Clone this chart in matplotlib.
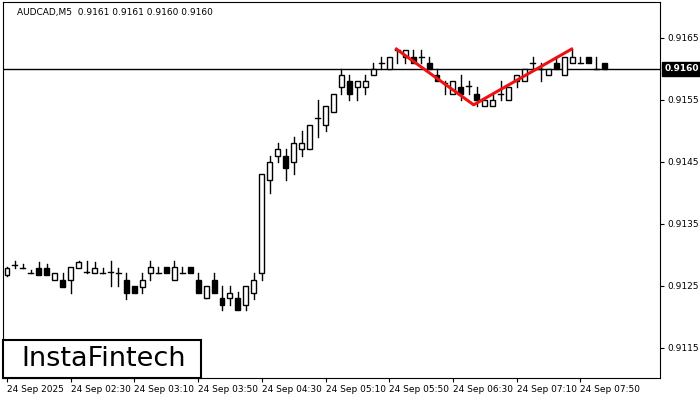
import matplotlib
matplotlib.use("Agg")
import matplotlib.pyplot as plt
from matplotlib.patches import Rectangle

opens = [.91268,.91284,.91279,.91270,.91278,.91278,.91260,.91259,.91259,.91278,.91272,.91270,.91270,.91272,.91270,.91259,.91250,.91248,.91270,.91270,.91280,.91259,.91270,.91280,.91259,.91230,.91259,.91230,.91230,.91230,.91219,.91238,.9127,
         .9142,.9146,.9146,.9145,.9147,.9147,.91520,.9151,.9153,.9157,.9158,.9157,.9157,.9159,.9161,.9160,.91630,.9162,.9162,.91619,.9161,.9159,.91578,
         .9156,.9157,.91572,.9156,.9154,.9154,.9156,.9155,.9158,.9158,.9161,.9160,.9159,.9161,.9159,.9161,.9161,.9162,.9160,.9161]
closes = [.91279,.91284,.91279,.91270,.91268,.91268,.91270,.91248,.91280,.91289,.91272,.91278,.91270,.91272,.91270,.91238,.91238,.91259,.91280,.91270,.91270,.91280,.91270,.91270,.91238,.91250,.91238,.91219,.91238,.91210,.91250,.91259,.9143,
          .9145,.9147,.9144,.9148,.9148,.9151,.91520,.9154,.9156,.9159,.9156,.9158,.9158,.9160,.9161,.9162,.91630,.9163,.9161,.91619,.9160,.9158,.91578,
          .9158,.9156,.91572,.9155,.9155,.9155,.9156,.9157,.9159,.9160,.9161,.9160,.9160,.9160,.9162,.9162,.9161,.9161,.9160,.9160]
highs = [.9128,.91290,.91285,.91276,.91288,.91285,.91270,.91270,.91280,.91290,.91290,.91288,.91279,.91290,.91279,.91270,.91250,.91270,.91290,.91281,.91280,.91290,.91281,.91280,.91270,.91250,.91270,.91250,.91250,.91240,.91250,.91270,.9143,
         .9146,.9148,.9147,.9149,.9150,.9151,.9155,.9154,.9156,.9160,.9159,.9158,.9159,.9161,.9162,.9162,.91630,.9163,.9163,.91630,.9162,.9160,.91580,
         .9158,.9159,.91580,.9157,.9155,.9156,.9158,.9157,.9159,.9160,.9162,.9161,.9160,.9162,.9162,.9163,.9162,.9162,.9162,.9161]
lows = [.91265,.91278,.91279,.91270,.91268,.91268,.91259,.91248,.91238,.91278,.91270,.91270,.91270,.91250,.91250,.91228,.91238,.91238,.91259,.91270,.91270,.91259,.91270,.91270,.91238,.91240,.91238,.91210,.91219,.91210,.91210,.91228,.9126,
        .9140,.9145,.9142,.9143,.9146,.9147,.9149,.9150,.9153,.9156,.9155,.9155,.9156,.9159,.9160,.9160,.91610,.9161,.9161,.91610,.9160,.9158,.9156,
        .9156,.9155,.91560,.9154,.9154,.9154,.9155,.9155,.9157,.9158,.9160,.9158,.9159,.9160,.9159,.9161,.9161,.9161,.9160,.9160]

tick_idx = [0, 8, 16, 24, 32, 40, 48, 56, 64, 72]
tick_labels = ["24 Sep 2025", "24 Sep 02:30", "24 Sep 03:10", "24 Sep 03:50", "24 Sep 04:30",
               "24 Sep 05:10", "24 Sep 05:50", "24 Sep 06:30", "24 Sep 07:10", "24 Sep 07:50"]
y_ticks = [0.9115, 0.9125, 0.9135, 0.9145, 0.9155, 0.9165]
pattern_x = [48.9, 58.6, 70.9]
pattern_y = [0.91632, 0.91542, 0.91632]
last_price = 0.9160

fig = plt.figure(figsize=(7, 4), dpi=100)
ax = fig.add_axes([3/700, 22/400, 657/700, 376/400])
w = 0.62
for i, (o, h, l, c) in enumerate(zip(opens, highs, lows, closes)):
    lo, hi = min(o, c), max(o, c)
    ax.plot([i, i], [l, lo], color="black", lw=1, zorder=2)
    ax.plot([i, i], [hi, h], color="black", lw=1, zorder=2)
    if hi - lo < 1e-6:
        ax.plot([i - w/2, i + w/2], [o, o], color="black", lw=1, zorder=3)
    else:
        ax.add_patch(Rectangle((i - w/2, lo), w, hi - lo, facecolor="white" if c > o else "black",
                               edgecolor="black", lw=1, zorder=3))
ax.axhline(last_price, color="black", lw=1, zorder=1)
ax.plot(pattern_x, pattern_y, color="#ee1111", lw=2.2, zorder=4)
ax.set_xlim(-0.5, 82)
ax.set_ylim(0.91101, 0.91708)
ax.set_xticks(tick_idx)
ax.set_xticklabels(tick_labels, fontsize=6.5, ha="left")
ax.tick_params(axis="x", length=3, pad=2)
ax.yaxis.tick_right()
ax.set_yticks(y_ticks)
ax.set_yticklabels([f"{v:.4f}" for v in y_ticks], fontsize=6.5)
ax.tick_params(axis="y", length=3, pad=2)
for s in ax.spines.values():
    s.set_linewidth(0.8)
ax.text(0.021, 0.985, "AUDCAD,M5  0.9161 0.9161 0.9160 0.9160", transform=ax.transAxes,
        fontsize=6.5, va="top", ha="left")
ax.annotate(f"{last_price:.4f}", xy=(1.0, last_price), xycoords=("axes fraction", "data"),
            xytext=(3, 0), textcoords="offset points", fontsize=6.5, color="white",
            va="center", ha="left", fontweight="bold",
            bbox=dict(boxstyle="square,pad=0.25", fc="black", ec="black"), annotation_clip=False)
fig.patches.append(Rectangle((3/700, 22/400), 198/700, 38/400, transform=fig.transFigure,
                             fill=True, facecolor="white", edgecolor="black", lw=1.5, zorder=10))
fig.text(21/700, 41/400, "InstaFintech", fontsize=19.5, va="center", ha="left", zorder=11)
fig.savefig("out.png", dpi=100)
